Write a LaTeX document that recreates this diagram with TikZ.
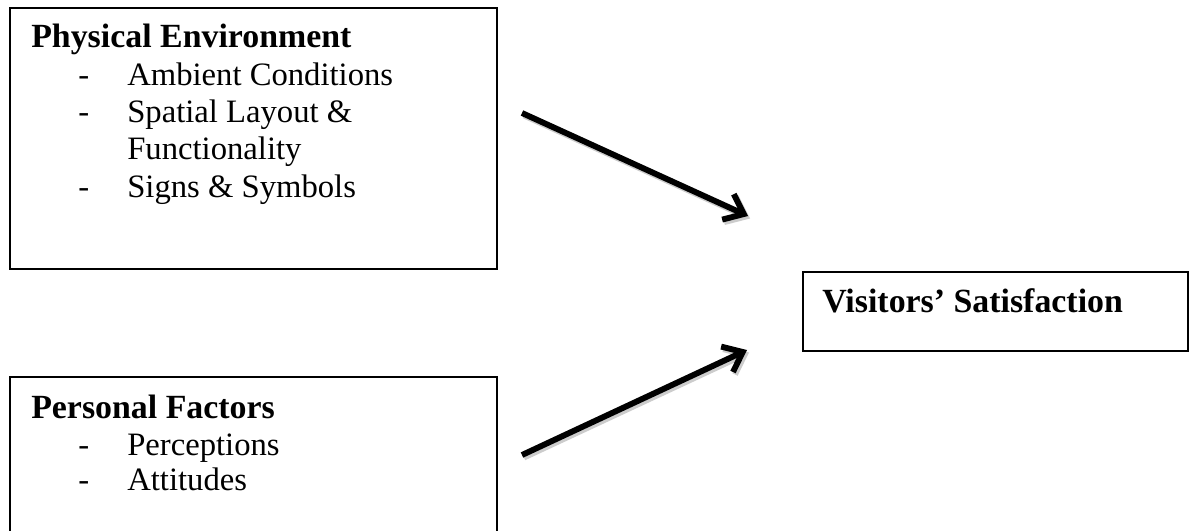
\documentclass[tikz,border=0pt]{standalone}
\usepackage{fontspec}
\setmainfont{Liberation Serif}
\usetikzlibrary{arrows.meta,calc}
\tikzset{
  box/.style={draw=black, line width=1.3pt, anchor=north west, inner sep=0pt},
  txt/.style={anchor=base west, inner sep=0pt, font=\fontsize{24.5pt}{29pt}\selectfont},
  head/.style={txt, font=\fontsize{25.4pt}{30pt}\selectfont\bfseries},
  link/.style={line width=4.4pt, -{Straight Barb[length=13pt,width=21pt,line width=4.4pt]}},
  linkshadow/.style={link, draw=gray!40}
}
\begin{document}
\begin{tikzpicture}[x=0.75pt,y=-0.75pt]
\useasboundingbox (0,0) rectangle (1191,531);
\fill[white] (0,0) rectangle (1191,531);
% boxes
\node[box, minimum width=487*0.75pt, minimum height=261*0.75pt] (pe) at (9,7) {};
\node[box, minimum width=487*0.75pt, minimum height=170*0.75pt] (pf) at (9,376) {};
\node[box, minimum width=385*0.75pt, minimum height=79*0.75pt] (vs) at (802,271) {};
% texts of physical environment
\node[head] (peh) at (31,48) {Physical Environment};
\node[txt] (d1) at (78,86) {-};
\node[txt] (t1) at (127,86) {Ambient Conditions};
\node[txt] (d2) at (78,123) {-};
\node[txt] (t2) at (127,123) {Spatial Layout \&};
\node[txt] (t3) at (127,160) {Functionality};
\node[txt] (d3) at (78,197) {-};
\node[txt] (t4) at (127,197) {Signs \& Symbols};
% personal factors
\node[head] (pfh) at (31,418) {Personal Factors};
\node[txt] (d4) at (78,455) {-};
\node[txt] (t5) at (127,455) {Perceptions};
\node[txt] (d5) at (78,490) {-};
\node[txt] (t6) at (127,490) {Attitudes};
% visitors
\node[head] (vsh) at (822,312) {Visitors’ Satisfaction};
% arrows
\coordinate (a1s) at (522,113);
\coordinate (a1e) at (748,216);
\coordinate (a2s) at (522,455);
\coordinate (a2e) at (747,350);
\draw[linkshadow] ($(a1s)+(2,2.5)$) -- ($(a1e)+(2,2.5)$);
\draw[linkshadow] ($(a2s)+(2,2.5)$) -- ($(a2e)+(2,2.5)$);
\draw[link] (a1s) -- (a1e);
\draw[link] (a2s) -- (a2e);
\end{tikzpicture}
\end{document}
